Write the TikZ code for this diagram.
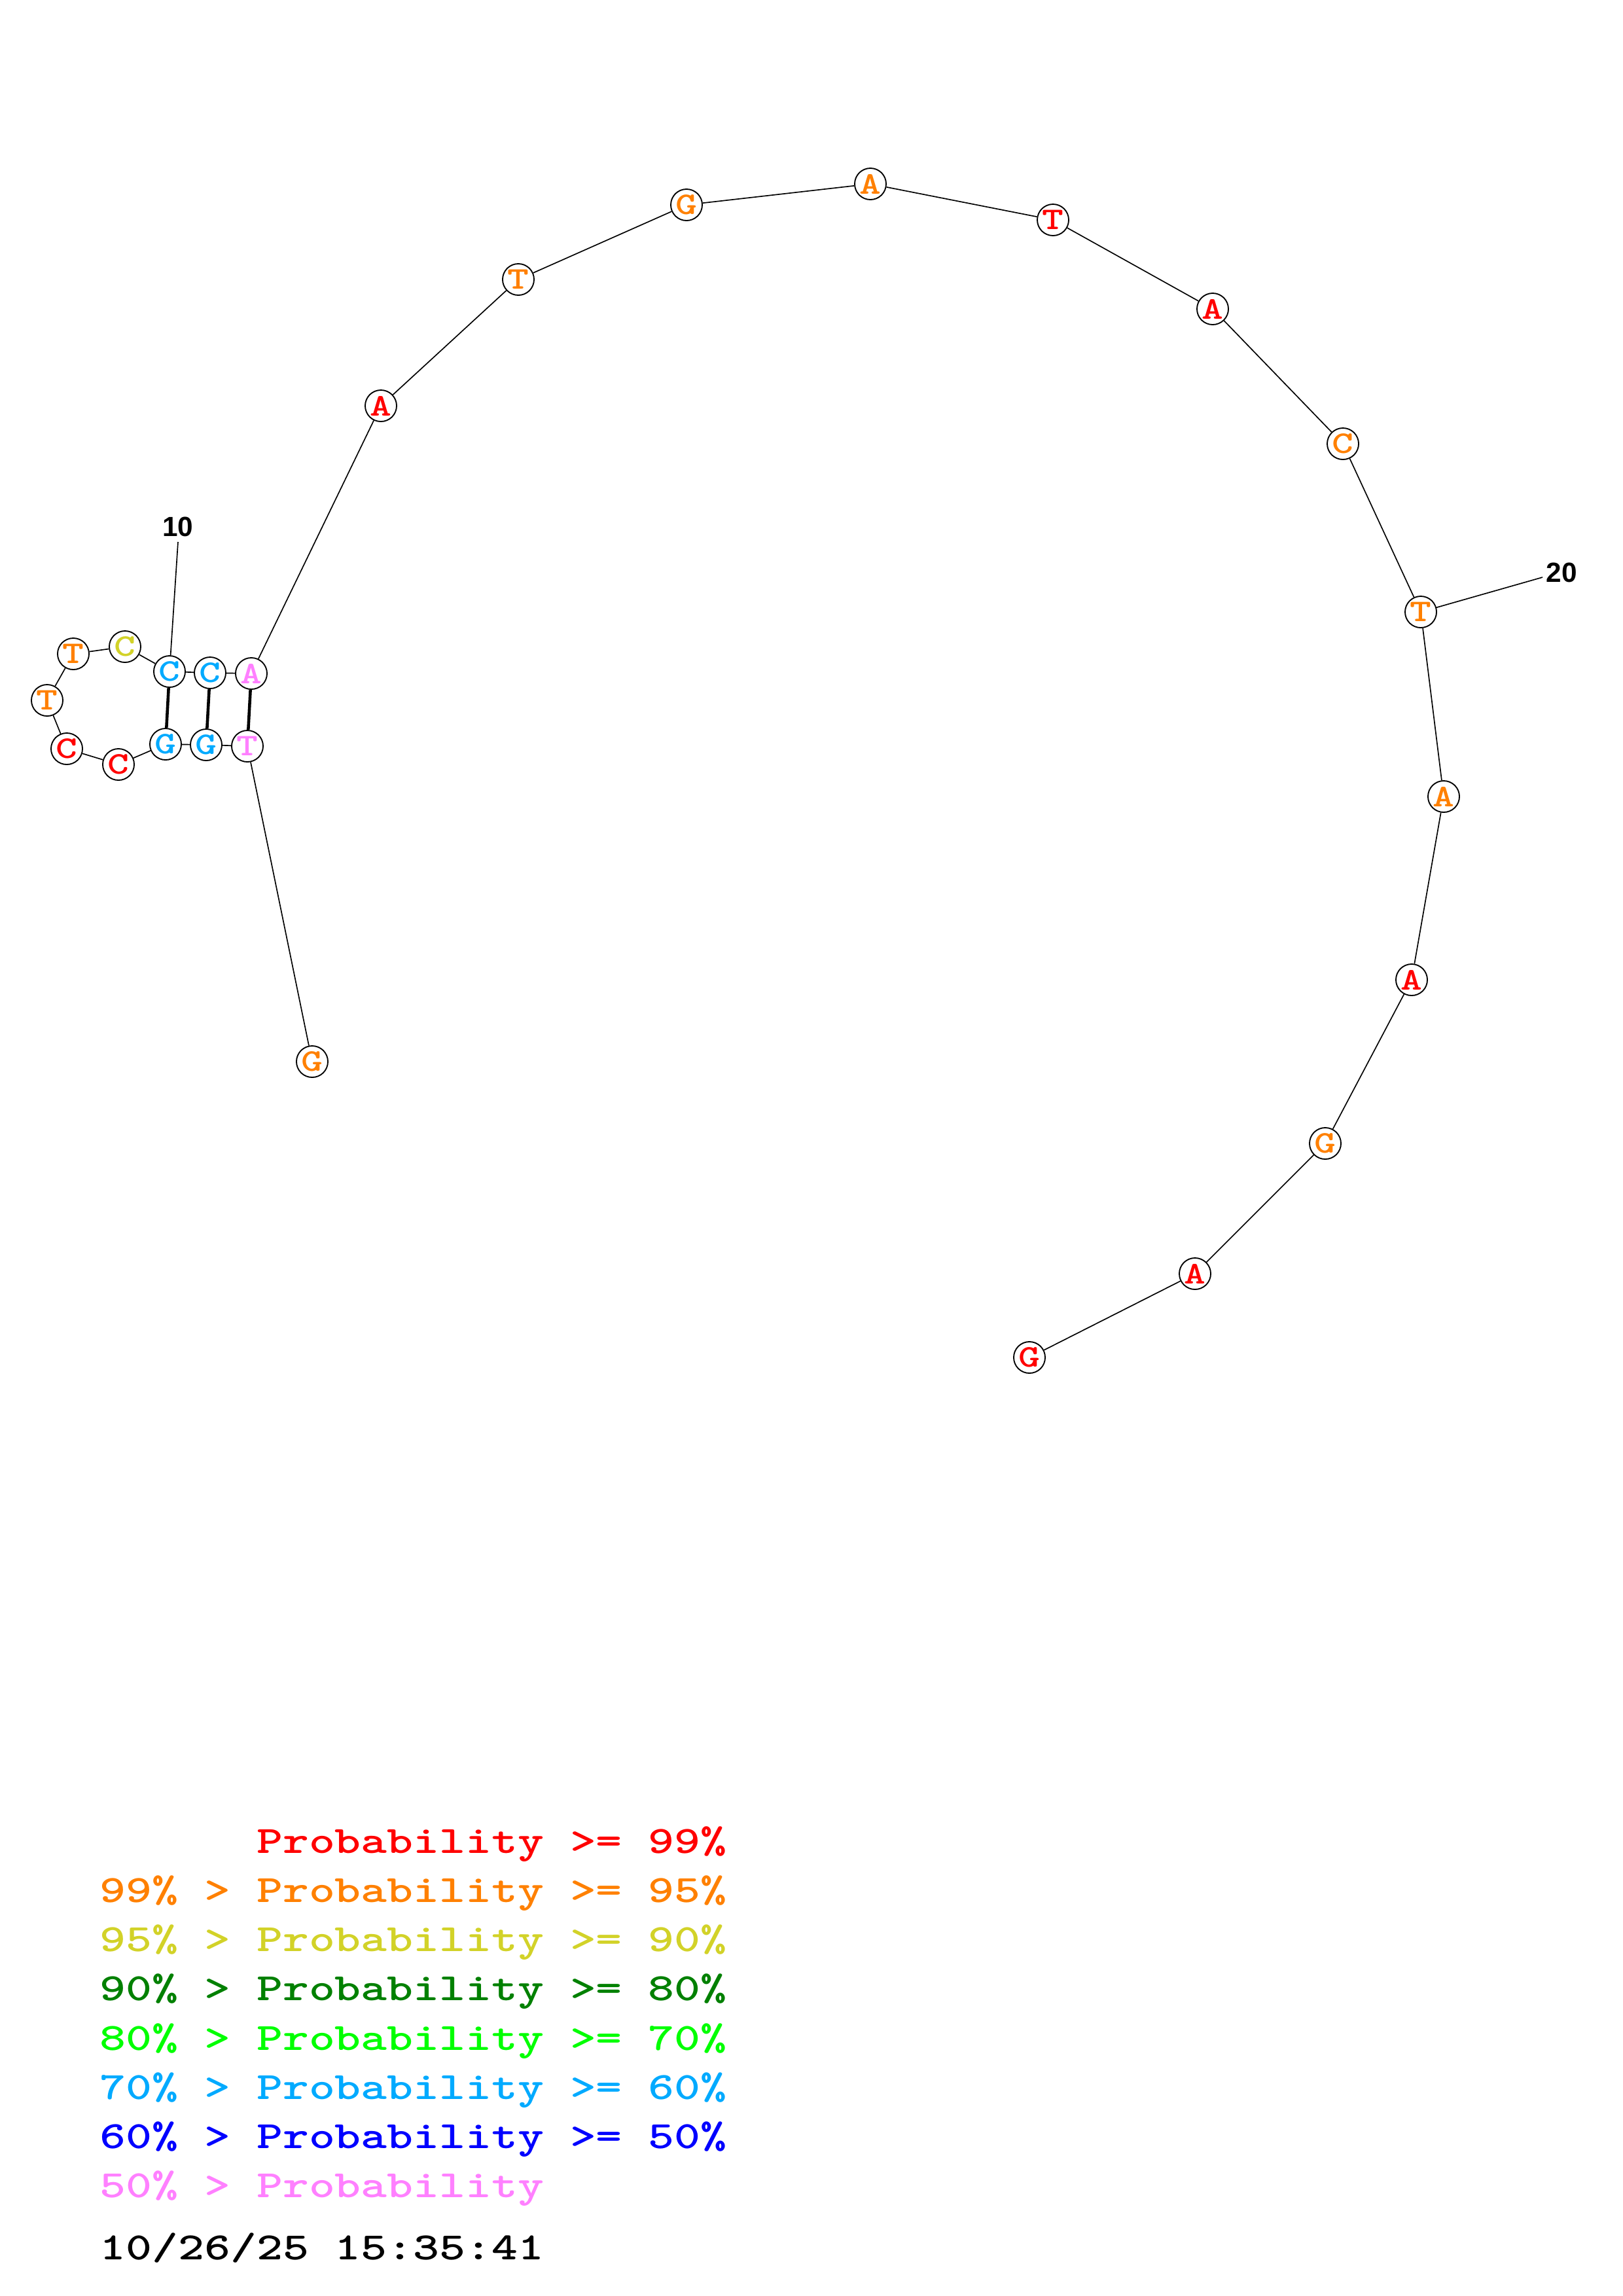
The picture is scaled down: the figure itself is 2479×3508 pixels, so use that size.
\documentclass[tikz,border=0pt]{standalone}
\usepackage{fontspec}
\usepackage{graphicx}
\usepackage{xcolor}
\newfontfamily\numfont{Liberation Sans}
\newcommand{\widetype}[1]{\scalebox{1.3}[1]{#1}}
\newcommand{\widelegend}[1]{\scalebox{1.29}[1]{#1}}
\definecolor{probRed}{RGB}{255,0,0}
\definecolor{probOrange}{RGB}{255,128,0}
\definecolor{probYellow}{RGB}{210,210,40}
\definecolor{probDarkGreen}{RGB}{0,128,0}
\definecolor{probGreen}{RGB}{0,255,0}
\definecolor{probCyan}{RGB}{0,170,255}
\definecolor{probBlue}{RGB}{0,0,255}
\definecolor{probPink}{RGB}{255,128,255}

\begin{document}
\begin{tikzpicture}[x=0.084711mm, y=-0.084711mm,
  base/.style={circle, draw=black, line width=0.45pt, fill=white, inner sep=0, minimum size=4.07mm, font=\ttfamily\bfseries\fontsize{11.6}{12}\selectfont},
  backbone/.style={draw=black, line width=0.4pt},
  pair/.style={draw=black, line width=1.1pt},
  tick/.style={font=\numfont\bfseries\fontsize{10.2}{11}\selectfont, inner sep=0},
  legend/.style={anchor=base west, inner sep=0, font=\ttfamily\bfseries\fontsize{14.2}{16}\selectfont}]

\useasboundingbox (0,0) rectangle (2479,3508);

% bases
\node[base, text=probOrange] (base1)  at (477,1622)  {\widetype{G}};
\node[base, text=probPink]   (base2)  at (378,1140)  {\widetype{T}};
\node[base, text=probCyan]   (base3)  at (315,1138)  {\widetype{G}};
\node[base, text=probCyan]   (base4)  at (253,1137)  {\widetype{G}};
\node[base, text=probRed]    (base5)  at (181,1168)  {\widetype{C}};
\node[base, text=probRed]    (base6)  at (102,1144)  {\widetype{C}};
\node[base, text=probOrange] (base7)  at (72,1070)   {\widetype{T}};
\node[base, text=probOrange] (base8)  at (112,999)   {\widetype{T}};
\node[base, text=probYellow] (base9)  at (191,988)   {\widetype{C}};
\node[base, text=probCyan]   (base10) at (259,1026)  {\widetype{C}};
\node[base, text=probCyan]   (base11) at (321,1028)  {\widetype{C}};
\node[base, text=probPink]   (base12) at (384,1029)  {\widetype{A}};
\node[base, text=probRed]    (base13) at (582,620)   {\widetype{A}};
\node[base, text=probOrange] (base14) at (792,427)   {\widetype{T}};
\node[base, text=probOrange] (base15) at (1049,313)  {\widetype{G}};
\node[base, text=probOrange] (base16) at (1330,281)  {\widetype{A}};
\node[base, text=probRed]    (base17) at (1609,336)  {\widetype{T}};
\node[base, text=probRed]    (base18) at (1853,472)  {\widetype{A}};
\node[base, text=probOrange] (base19) at (2052,678)  {\widetype{C}};
\node[base, text=probOrange] (base20) at (2171,935)  {\widetype{T}};
\node[base, text=probOrange] (base21) at (2206,1217) {\widetype{A}};
\node[base, text=probRed]    (base22) at (2157,1497) {\widetype{A}};
\node[base, text=probOrange] (base23) at (2025,1747) {\widetype{G}};
\node[base, text=probRed]    (base24) at (1826,1946) {\widetype{A}};
\node[base, text=probRed]    (base25) at (1573,2074) {\widetype{G}};

% backbone
\draw [backbone] (base1) -- (base2);
\draw [backbone] (base2) -- (base3);
\draw [backbone] (base3) -- (base4);
\draw [backbone] (base4) -- (base5);
\draw [backbone] (base5) -- (base6);
\draw [backbone] (base6) -- (base7);
\draw [backbone] (base7) -- (base8);
\draw [backbone] (base8) -- (base9);
\draw [backbone] (base9) -- (base10);
\draw [backbone] (base10) -- (base11);
\draw [backbone] (base11) -- (base12);
\draw [backbone] (base12) -- (base13);
\draw [backbone] (base13) -- (base14);
\draw [backbone] (base14) -- (base15);
\draw [backbone] (base15) -- (base16);
\draw [backbone] (base16) -- (base17);
\draw [backbone] (base17) -- (base18);
\draw [backbone] (base18) -- (base19);
\draw [backbone] (base19) -- (base20);
\draw [backbone] (base20) -- (base21);
\draw [backbone] (base21) -- (base22);
\draw [backbone] (base22) -- (base23);
\draw [backbone] (base23) -- (base24);
\draw [backbone] (base24) -- (base25);

% pairs
\draw [pair] (base2) -- (base12);
\draw [pair] (base3) -- (base11);
\draw [pair] (base4) -- (base10);

% numbering
\node[tick] (tick10) at (272,805) {10};
\coordinate (tickEnd10) at (272,828);
\draw [backbone] (base10) -- (tickEnd10);
\node[tick] (tick20) at (2386,875) {20};
\coordinate (tickEnd20) at (2357,882);
\draw [backbone] (base20) -- (tickEnd20);

% legend
\node[legend, text=probRed]       (legend1) at (152,2831) {\widelegend{\hphantom{99\% > }Probability >= 99\%}};
\node[legend, text=probOrange]    (legend2) at (152,2906) {\widelegend{99\% > Probability >= 95\%}};
\node[legend, text=probYellow]    (legend3) at (152,2981) {\widelegend{95\% > Probability >= 90\%}};
\node[legend, text=probDarkGreen] (legend4) at (152,3056) {\widelegend{90\% > Probability >= 80\%}};
\node[legend, text=probGreen]     (legend5) at (152,3132) {\widelegend{80\% > Probability >= 70\%}};
\node[legend, text=probCyan]      (legend6) at (152,3207) {\widelegend{70\% > Probability >= 60\%}};
\node[legend, text=probBlue]      (legend7) at (152,3282) {\widelegend{60\% > Probability >= 50\%}};
\node[legend, text=probPink]      (legend8) at (152,3357) {\widelegend{50\% > Probability}};
\node[legend, text=black]         (stamp)   at (152,3452) {\widelegend{10/26/25 15:35:41}};
\end{tikzpicture}
\end{document}
